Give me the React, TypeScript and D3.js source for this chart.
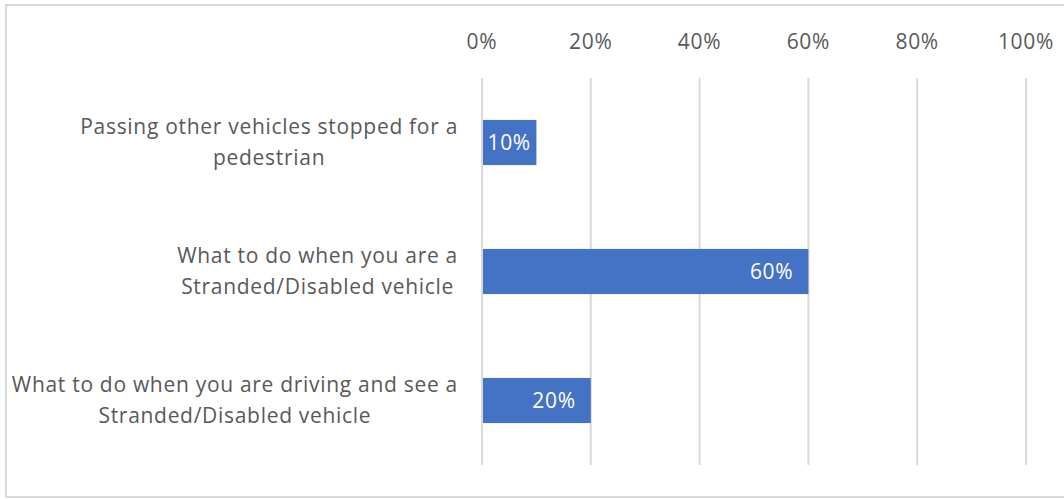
import React, { useEffect, useRef } from "react";
import * as d3 from "d3";

const categories: string[][] = [
  ["Passing other vehicles stopped for a", "pedestrian"],
  ["What to do when you are a", "Stranded/Disabled vehicle"],
  ["What to do when you are driving and see a", "Stranded/Disabled vehicle"],
];
const values: number[] = [0.1, 0.6, 0.2];
const ticks: number[] = [0, 0.2, 0.4, 0.6, 0.8, 1.0];

const W = 1064;
const H = 499;
const FONT = "'Open Sans', sans-serif";
const FS = 21;
const LS = 0.7;

export default function App() {
  const ref = useRef<SVGSVGElement>(null);

  useEffect(() => {
    const svg = d3.select(ref.current);
    svg.selectAll("*").remove();

    const x = d3.scaleLinear().domain([0, 1]).range([482, 1026]);
    const y = d3
      .scaleBand<number>()
      .domain(d3.range(categories.length))
      .range([78, 465])
      .paddingInner(0.65)
      .paddingOuter(0.325);

    svg
      .append("rect")
      .attr("x", 6)
      .attr("y", 5)
      .attr("width", 1070)
      .attr("height", 492)
      .attr("fill", "#fff")
      .attr("stroke", "#d9d9d9")
      .attr("stroke-width", 2);

    svg
      .append("g")
      .selectAll("line")
      .data(ticks)
      .join("line")
      .attr("x1", (d) => x(d))
      .attr("x2", (d) => x(d))
      .attr("y1", 78)
      .attr("y2", 465)
      .attr("stroke", "#d9d9d9")
      .attr("stroke-width", 2);

    svg
      .append("g")
      .selectAll("text")
      .data(ticks)
      .join("text")
      .attr("x", (d) => x(d))
      .attr("y", 42)
      .attr("dy", "0.35em")
      .attr("text-anchor", "middle")
      .attr("font-family", FONT)
      .attr("font-size", FS)
      .attr("letter-spacing", LS)
      .attr("fill", "#595959")
      .text((d) => d3.format(".0%")(d));

    svg
      .append("g")
      .selectAll("rect")
      .data(values)
      .join("rect")
      .attr("x", x(0) + 1)
      .attr("y", (_, i) => y(i)!)
      .attr("width", (d) => x(d) - x(0) - 1)
      .attr("height", y.bandwidth())
      .attr("fill", "#4472C4");

    const vl = svg.append("g");
    values.forEach((v, i) => {
      const t = vl
        .append("text")
        .attr("y", y(i)! + y.bandwidth() / 2)
        .attr("dy", "0.35em")
        .attr("font-family", FONT)
        .attr("font-size", FS)
        .attr("letter-spacing", LS)
        .attr("fill", "#fff")
        .text(d3.format(".0%")(v));
      const w = (t.node() as SVGTextElement).getComputedTextLength();
      const barW = x(v) - x(0);
      if (w + 20 > barW) {
        t.attr("x", x(0) + barW / 2).attr("text-anchor", "middle");
      } else {
        t.attr("x", x(v) - 15).attr("text-anchor", "end");
      }
    });

    const cl = svg.append("g");
    categories.forEach((lines, i) => {
      const cy = y(i)! + y.bandwidth() / 2;
      const g = cl.append("g");
      const texts = lines.map((line, j) =>
        g
          .append("text")
          .attr("y", cy + (j - (lines.length - 1) / 2) * 31)
          .attr("dy", "0.35em")
          .attr("text-anchor", "middle")
          .attr("font-family", FONT)
          .attr("font-size", FS)
          .attr("letter-spacing", LS)
          .attr("fill", "#595959")
          .text(line)
      );
      const maxW = d3.max(texts, (t) => (t.node() as SVGTextElement).getComputedTextLength()) || 0;
      const right = 458;
      texts.forEach((t) => t.attr("x", right - maxW / 2));
    });
  }, []);

  return (
    <svg
      ref={ref}
      width={W}
      height={H}
      style={{ position: "absolute", left: 0, top: 0, background: "#fff" }}
    />
  );
}
